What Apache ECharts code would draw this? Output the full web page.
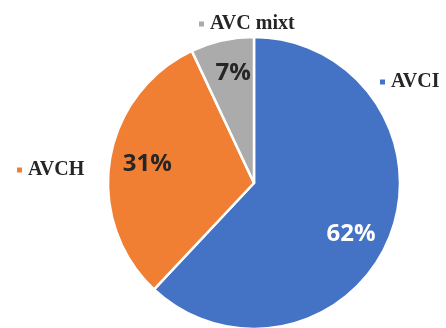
<!DOCTYPE html>
<html>
<head>
<meta charset="utf-8">
<script src="https://cdn.jsdelivr.net/npm/echarts@6/dist/echarts.min.js"></script>
<style>
  html, body { margin: 0; padding: 0; background: #fff; }
  #chart { width: 446px; height: 328px; }
</style>
</head>
<body>
<div id="chart"></div>
<script>
// Stroke subtype shares (%)
const categories = ['AVCI', 'AVCH', 'AVC mixt'];
const shares = [62, 31, 7];
const colors = ['#4472C4', '#F07F34', '#ABABAB'];
const percentLabelColors = ['#ffffff', '#262626', '#262626'];
// small nudges of each percentage label
const percentLabelOffsets = [[-9, 9], [6, -1], [4, 1]];

const center = [254, 183];
const radius = 146;

const pieData = categories.map((name, i) => ({
  name,
  value: shares[i],
  itemStyle: { color: colors[i] }
}));

// Transparent ring that only carries the percentage labels further out
const labelData = categories.map((name, i) => ({
  name,
  value: shares[i],
  itemStyle: { color: 'transparent' },
  label: { color: percentLabelColors[i], offset: percentLabelOffsets[i] }
}));

const legendSpots = [
  { name: 'AVCI', left: 378, top: 72 },
  { name: 'AVCH', left: 15, top: 160 },
  { name: 'AVC mixt', left: 197, top: 14 }
];

const legends = legendSpots.map((s) => ({
  data: [{ name: s.name, itemStyle: { color: colors[categories.indexOf(s.name)] } }],
  left: s.left,
  top: s.top,
  padding: 0,
  orient: 'horizontal',
  icon: 'rect',
  itemWidth: 7,
  itemHeight: 7,
  selectedMode: false,
  textStyle: {
    fontFamily: 'Liberation Serif',
    fontWeight: 'bold',
    fontSize: 20,
    color: '#262626'
  }
}));

const chart = echarts.init(document.getElementById('chart'), null, { renderer: 'canvas' });
chart.setOption({
  animation: false,
  backgroundColor: '#ffffff',
  legend: legends,
  series: [
    {
      type: 'pie',
      center,
      radius,
      startAngle: 90,
      clockwise: true,
      silent: true,
      label: { show: false },
      labelLine: { show: false },
      itemStyle: { borderColor: '#ffffff', borderWidth: 2.5 },
      data: pieData
    },
    {
      type: 'pie',
      center,
      radius: [90, 132],
      startAngle: 90,
      clockwise: true,
      silent: true,
      legendHoverLink: false,
      labelLine: { show: false },
      itemStyle: { borderWidth: 0 },
      label: {
        show: true,
        position: 'inside',
        formatter: '{c}%',
        fontFamily: 'Open Sans',
        fontWeight: 'bold',
        fontSize: 24
      },
      data: labelData
    }
  ]
});
</script>
</body>
</html>
